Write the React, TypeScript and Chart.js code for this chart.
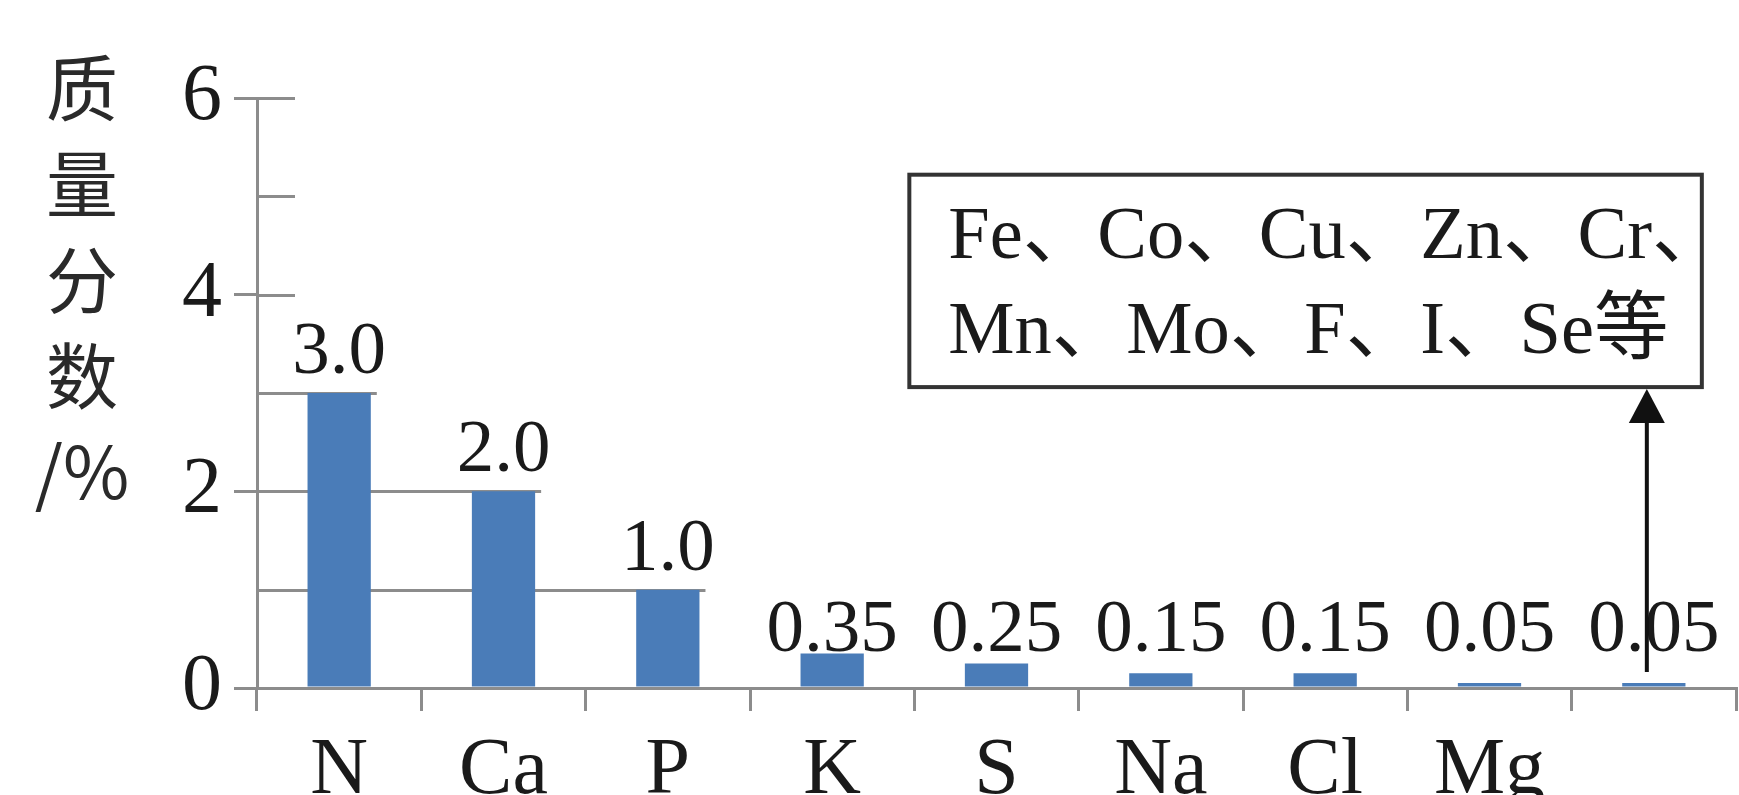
import React, { useEffect, useRef } from "react";
import { Chart, registerables } from "chart.js";

Chart.register(...registerables);

const categories: string[] = ["N", "Ca", "P", "K", "S", "Na", "Cl", "Mg", ""];
const values: number[] = [3.0, 2.0, 1.0, 0.35, 0.25, 0.15, 0.15, 0.05, 0.05];
const valueLabels: string[] = ["3.0", "2.0", "1.0", "0.35", "0.25", "0.15", "0.15", "0.05", "0.05"];
const yMin = 0;
const yMax = 6;
const yStep = 1;
const yTitleChars: string[] = ["质", "量", "分", "数", "/%"];
const boxLines: string[] = ["Fe、Co、Cu、Zn、Cr、", "Mn、Mo、F、I、Se等"];

const BAR_COLOR = "#4A7CB8";
const AXIS_COLOR = "#8c8c8c";
const TEXT_COLOR = "#1a1a1a";
const SERIF = "'Liberation Serif', 'Noto Sans CJK SC', serif";

const overlayPlugin = {
  id: "overlay",
  beforeDatasetsDraw(chart: any) {
    const ctx = chart.ctx;
    const x = chart.scales.x;
    const y = chart.scales.y;
    const meta = chart.getDatasetMeta(0);
    ctx.save();
    ctx.strokeStyle = AXIS_COLOR;
    ctx.lineWidth = 3;
    for (let v = yMin + yStep; v <= yMax; v += yStep) {
      let right = x.left + 38;
      values.forEach((val, i) => {
        if (val >= v) {
          const bar = meta.data[i];
          const r = bar.x + bar.width / 2 + 6;
          if (r > right) right = r;
        }
      });
      const py = Math.round(y.getPixelForValue(v)) + 0.5;
      ctx.beginPath();
      ctx.moveTo(x.left, py);
      ctx.lineTo(right, py);
      ctx.stroke();
    }
    ctx.restore();
  },
  afterDraw(chart: any) {
    const ctx = chart.ctx;
    const x = chart.scales.x;
    const y = chart.scales.y;
    const meta = chart.getDatasetMeta(0);
    ctx.save();

    // value labels
    ctx.fillStyle = TEXT_COLOR;
    ctx.font = `75px ${SERIF}`;
    ctx.textAlign = "center";
    ctx.textBaseline = "alphabetic";
    values.forEach((v, i) => {
      const bar = meta.data[i];
      const by = v >= 1 ? y.getPixelForValue(v) - 20 : y.getPixelForValue(0) - 37;
      ctx.fillText(valueLabels[i], bar.x, by);
    });

    // y title (stacked characters)
    ctx.fillStyle = "#2a2a2a";
    ctx.font = `72px 'Noto Sans CJK SC', 'Noto Sans', sans-serif`;
    ctx.textAlign = "center";
    ctx.textBaseline = "middle";
    yTitleChars.forEach((ch, i) => {
      ctx.fillText(ch, 82, 88 + i * 96);
    });

    // annotation box
    const left = x.getPixelForValue(3.5) - 5;
    const lastBar = meta.data[values.length - 1];
    const right = lastBar.x + 48;
    const top = y.getPixelForValue(5.22);
    const bottom = y.getPixelForValue(3.06);
    ctx.fillStyle = "#ffffff";
    ctx.fillRect(left, top, right - left, bottom - top);
    ctx.strokeStyle = "#333333";
    ctx.lineWidth = 4;
    ctx.strokeRect(left, top, right - left, bottom - top);

    ctx.fillStyle = TEXT_COLOR;
    ctx.font = `74.5px ${SERIF}`;
    ctx.textAlign = "left";
    ctx.textBaseline = "alphabetic";
    boxLines.forEach((line, i) => {
      ctx.fillText(line, left + 39, top + 83 + i * 95);
    });

    // arrow from last bar to box
    const ax = lastBar.x - 7;
    const ay0 = y.getPixelForValue(values[values.length - 1]) - 11;
    const tipY = bottom + 2;
    const headH = 34;
    const headW = 18;
    ctx.strokeStyle = "#111111";
    ctx.lineWidth = 4;
    ctx.beginPath();
    ctx.moveTo(ax, ay0);
    ctx.lineTo(ax, tipY + headH - 2);
    ctx.stroke();
    ctx.fillStyle = "#111111";
    ctx.beginPath();
    ctx.moveTo(ax, tipY);
    ctx.lineTo(ax - headW, tipY + headH);
    ctx.lineTo(ax + headW, tipY + headH);
    ctx.closePath();
    ctx.fill();

    ctx.restore();
  },
};

export default function App() {
  const ref = useRef<HTMLCanvasElement | null>(null);
  useEffect(() => {
    document.body.style.margin = "0";
    const canvas = ref.current;
    if (!canvas) return;
    const chart = new Chart(canvas, {
      type: "bar",
      data: {
        labels: categories,
        datasets: [
          {
            data: values,
            backgroundColor: BAR_COLOR,
            barPercentage: 0.385,
            categoryPercentage: 1,
          },
        ],
      },
      options: {
        animation: false,
        responsive: false,
        maintainAspectRatio: false,
        layout: { padding: { top: 98, right: 3, left: 0, bottom: 0 } },
        plugins: { legend: { display: false }, tooltip: { enabled: false } },
        scales: {
          x: {
            grid: { drawOnChartArea: false, tickLength: 23, color: AXIS_COLOR, lineWidth: 3, offset: true },
            border: { color: AXIS_COLOR, width: 3 },
            ticks: {
              font: { family: SERIF, size: 80 },
              color: TEXT_COLOR,
              padding: 13,
              autoSkip: false,
              maxRotation: 0,
            },
            afterFit: (s: any) => {
              s.height = 107;
            },
          },
          y: {
            min: yMin,
            max: yMax,
            ticks: {
              stepSize: yStep,
              callback: (v: any) => (Number(v) % 2 === 0 ? String(v) : ""),
              font: { family: SERIF, size: 80 },
              color: TEXT_COLOR,
              padding: 12,
            },
            grid: { drawOnChartArea: false, tickLength: 23, color: AXIS_COLOR, lineWidth: 3 },
            border: { color: AXIS_COLOR, width: 3 },
            afterFit: (s: any) => {
              s.width = 257;
            },
          },
        },
      },
      plugins: [overlayPlugin],
    });
    return () => chart.destroy();
  }, []);
  return (
    <canvas ref={ref} width={1739} height={795} style={{ display: "block", width: 1739, height: 795 }} />
  );
}
